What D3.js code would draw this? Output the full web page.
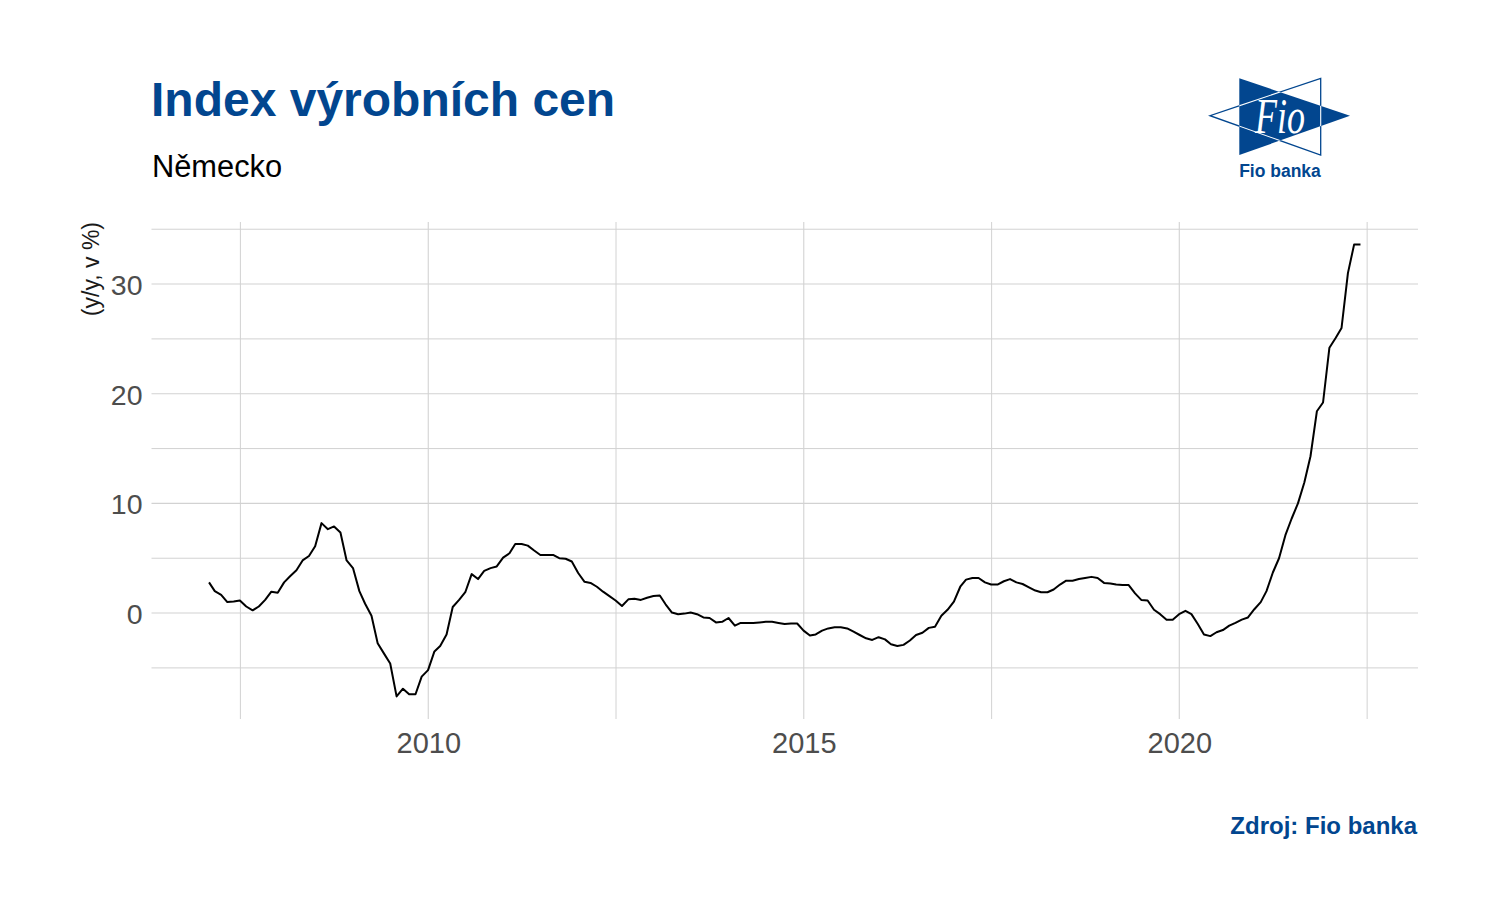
<!DOCTYPE html>
<html>
<head>
<meta charset="utf-8">
<script src="https://cdn.jsdelivr.net/npm/d3@7"></script>
<style>
  html, body { margin: 0; padding: 0; background: #ffffff; }
  svg { display: block; font-family: "Liberation Sans", Arial, sans-serif; }
</style>
</head>
<body>
<svg id="chart" width="1498" height="918"></svg>
<script>
// ---- data ----
const startYear = 2007;
const startMonth = 1; // January
const values = [
  // 2007
  2.8, 2.0, 1.65, 1.0, 1.05, 1.15, 0.6, 0.25, 0.6, 1.2, 1.95, 1.85,
  // 2008
  2.8, 3.35, 3.9, 4.8, 5.2, 6.1, 8.2, 7.65, 7.9, 7.35, 4.8, 4.1,
  // 2009
  2.0, 0.85, -0.25, -2.75, -3.7, -4.6, -7.6, -6.9, -7.4, -7.4, -5.8, -5.2,
  // 2010
  -3.5, -3.0, -1.95, 0.55, 1.2, 1.9, 3.55, 3.1, 3.85, 4.1, 4.25, 5.05,
  // 2011
  5.45, 6.3, 6.3, 6.15, 5.7, 5.3, 5.3, 5.3, 5.0, 4.95, 4.7, 3.65,
  // 2012
  2.85, 2.75, 2.4, 1.95, 1.55, 1.15, 0.65, 1.25, 1.3, 1.2, 1.4, 1.55,
  // 2013
  1.6, 0.8, 0.05, -0.1, -0.05, 0.05, -0.1, -0.4, -0.45, -0.85, -0.8, -0.45,
  // 2014
  -1.15, -0.9, -0.9, -0.9, -0.85, -0.8, -0.8, -0.9, -1.0, -0.95, -0.95, -1.6,
  // 2015
  -2.05, -1.95, -1.6, -1.4, -1.3, -1.3, -1.4, -1.7, -2.0, -2.3, -2.45, -2.2,
  // 2016
  -2.4, -2.85, -3.0, -2.9, -2.5, -2.0, -1.8, -1.35, -1.25, -0.25, 0.3, 1.05,
  // 2017
  2.4, 3.05, 3.2, 3.2, 2.8, 2.6, 2.6, 2.9, 3.1, 2.8, 2.65, 2.35,
  // 2018
  2.05, 1.9, 1.9, 2.15, 2.6, 2.95, 2.95, 3.1, 3.2, 3.3, 3.2, 2.75,
  // 2019
  2.7, 2.6, 2.55, 2.55, 1.8, 1.2, 1.15, 0.3, -0.1, -0.6, -0.6, -0.1,
  // 2020
  0.2, -0.1, -1.0, -1.95, -2.1, -1.75, -1.55, -1.15, -0.9, -0.6, -0.4, 0.35,
  // 2021
  1.0, 2.0, 3.7, 5.0, 7.1, 8.6, 10.0, 11.9, 14.3, 18.4, 19.2, 24.2,
  // 2022
  25.1, 26.0, 31.0, 33.6, 33.6
];
const xTickYears = [2010, 2015, 2020];
const yTicks = [0, 10, 20, 30];

const titleText = "Index výrobních cen";
const subtitleText = "Německo";
const yAxisTitle = "(y/y, v %)";
const sourceText = "Zdroj: Fio banka";
const logoWord = "Fio";
const logoCaption = "Fio banka";

// ---- build table ----
// monthly observations dated at month end
const data = values.map((v, i) => ({
  date: new Date(startYear, startMonth - 1 + i + 1, 0),
  value: v
}));

// ---- layout ----
const BLUE = "#02468f";
const GRID = "#d2d2d2";
const panel = { left: 151.5, right: 1418, top: 222, bottom: 719 };

const svg = d3.select("#chart");

function decYearToDate(y) {
  const yr = Math.floor(y);
  const a = new Date(yr, 0, 1).getTime();
  const b = new Date(yr + 1, 0, 1).getTime();
  return new Date(a + (y - yr) * (b - a));
}
function dateToDec(d) {
  const yr = d.getFullYear();
  const a = new Date(yr, 0, 1).getTime();
  const b = new Date(yr + 1, 0, 1).getTime();
  return yr + (d.getTime() - a) / (b - a);
}

// ggplot-like 5% expansion
const xExt = d3.extent(data, d => dateToDec(d.date));
const xPad = (xExt[1] - xExt[0]) * 0.05;
const x = d3.scaleTime()
  .domain([decYearToDate(xExt[0] - xPad), decYearToDate(xExt[1] + xPad)])
  .range([panel.left, panel.right]);

const yExt = d3.extent(values);
const yPad = (yExt[1] - yExt[0]) * 0.05;
const y = d3.scaleLinear()
  .domain([yExt[0] - yPad, yExt[1] + yPad])
  .range([panel.bottom, panel.top]);

// ---- gridlines ----
const grid = svg.append("g");
const yMinor = yTicks.map(t => t - 5).concat([yTicks[yTicks.length - 1] + 5]);
const xMinor = [xTickYears[0] - 2.5].concat(xTickYears.map(t => t + 2.5));

grid.selectAll("line.ymin").data(yMinor.filter(v => y(v) >= panel.top && y(v) <= panel.bottom))
  .join("line")
  .attr("x1", panel.left).attr("x2", panel.right)
  .attr("y1", d => y(d)).attr("y2", d => y(d))
  .attr("stroke", GRID).attr("stroke-width", 1);
grid.selectAll("line.ymaj").data(yTicks)
  .join("line")
  .attr("x1", panel.left).attr("x2", panel.right)
  .attr("y1", d => y(d)).attr("y2", d => y(d))
  .attr("stroke", GRID).attr("stroke-width", 1.1);
grid.selectAll("line.xmin").data(xMinor)
  .join("line")
  .attr("y1", panel.top).attr("y2", panel.bottom)
  .attr("x1", d => x(decYearToDate(d))).attr("x2", d => x(decYearToDate(d)))
  .attr("stroke", GRID).attr("stroke-width", 1);
grid.selectAll("line.xmaj").data(xTickYears)
  .join("line")
  .attr("y1", panel.top).attr("y2", panel.bottom)
  .attr("x1", d => x(new Date(d, 0, 1))).attr("x2", d => x(new Date(d, 0, 1)))
  .attr("stroke", GRID).attr("stroke-width", 1.1);

// ---- axes (labels only) ----
const xAxis = d3.axisBottom(x)
  .tickValues(xTickYears.map(yr => new Date(yr, 0, 1)))
  .tickFormat(d3.timeFormat("%Y"))
  .tickSize(0).tickPadding(0);
const gx = svg.append("g")
  .attr("transform", `translate(0,${panel.bottom})`)
  .call(xAxis);
gx.select(".domain").remove();
gx.selectAll("text")
  .attr("y", 34).attr("dy", 0)
  .attr("fill", "#4d4d4d")
  .style("font-size", "29px")
  .style("font-family", "'Liberation Sans', Arial, sans-serif");

const yAxis = d3.axisLeft(y)
  .tickValues(yTicks)
  .tickFormat(d3.format("d"))
  .tickSize(0).tickPadding(0);
const gy = svg.append("g")
  .attr("transform", `translate(${panel.left - 9},0)`)
  .call(yAxis);
gy.select(".domain").remove();
gy.selectAll("text")
  .attr("x", 0).attr("dy", "0.36em")
  .attr("fill", "#4d4d4d")
  .style("font-size", "28.5px")
  .style("font-family", "'Liberation Sans', Arial, sans-serif");

// ---- line ----
const line = d3.line()
  .x(d => x(d.date))
  .y(d => y(d.value));
svg.append("path")
  .datum(data)
  .attr("d", line)
  .attr("fill", "none")
  .attr("stroke", "#000000")
  .attr("stroke-width", 2)
  .attr("stroke-linejoin", "round");

// ---- titles ----
svg.append("text")
  .attr("x", 151).attr("y", 116)
  .attr("fill", BLUE)
  .style("font-size", "48px").style("font-weight", "bold")
  .text(titleText);
svg.append("text")
  .attr("x", 152).attr("y", 176.5)
  .attr("fill", "#000000")
  .style("font-size", "30.8px")
  .text(subtitleText);
svg.append("text")
  .attr("transform", `translate(99,${panel.top}) rotate(-90)`)
  .attr("text-anchor", "end")
  .attr("fill", "#1a1a1a")
  .style("font-size", "23px")
  .text(yAxisTitle);
svg.append("text")
  .attr("x", 1417).attr("y", 833.5)
  .attr("text-anchor", "end")
  .attr("fill", BLUE)
  .style("font-size", "24px").style("font-weight", "bold")
  .text(sourceText);

// ---- logo ----
const logo = svg.append("g");
const blueTri = [[1239.3, 78.3], [1239.3, 155], [1350, 115.7]];
const outTri = [[1320.7, 78.3], [1320.7, 155], [1210, 115.7]];
const pathOf = pts => "M" + pts.map(p => p.join(",")).join("L") + "Z";
svg.append("defs").append("clipPath").attr("id", "blueclip")
  .append("path").attr("d", pathOf(blueTri));
logo.append("path").attr("d", pathOf(outTri))
  .attr("fill", "#ffffff").attr("stroke", BLUE).attr("stroke-width", 1.3);
logo.append("path").attr("d", pathOf(blueTri)).attr("fill", BLUE);
logo.append("path").attr("d", pathOf(outTri))
  .attr("fill", "none").attr("stroke", "#ffffff").attr("stroke-width", 1.1)
  .attr("clip-path", "url(#blueclip)");
logo.append("text")
  .attr("x", 1255).attr("y", 133)
  .attr("fill", "#ffffff")
  .attr("textLength", 50).attr("lengthAdjust", "spacingAndGlyphs")
  .style("font-family", "'Liberation Serif', 'Times New Roman', serif")
  .style("font-size", "50px")
  .style("font-style", "italic")
  .text(logoWord);
logo.append("text")
  .attr("x", 1280).attr("y", 177.3)
  .attr("text-anchor", "middle")
  .attr("fill", BLUE)
  .style("font-size", "17.5px").style("font-weight", "bold")
  .text(logoCaption);
</script>
</body>
</html>
